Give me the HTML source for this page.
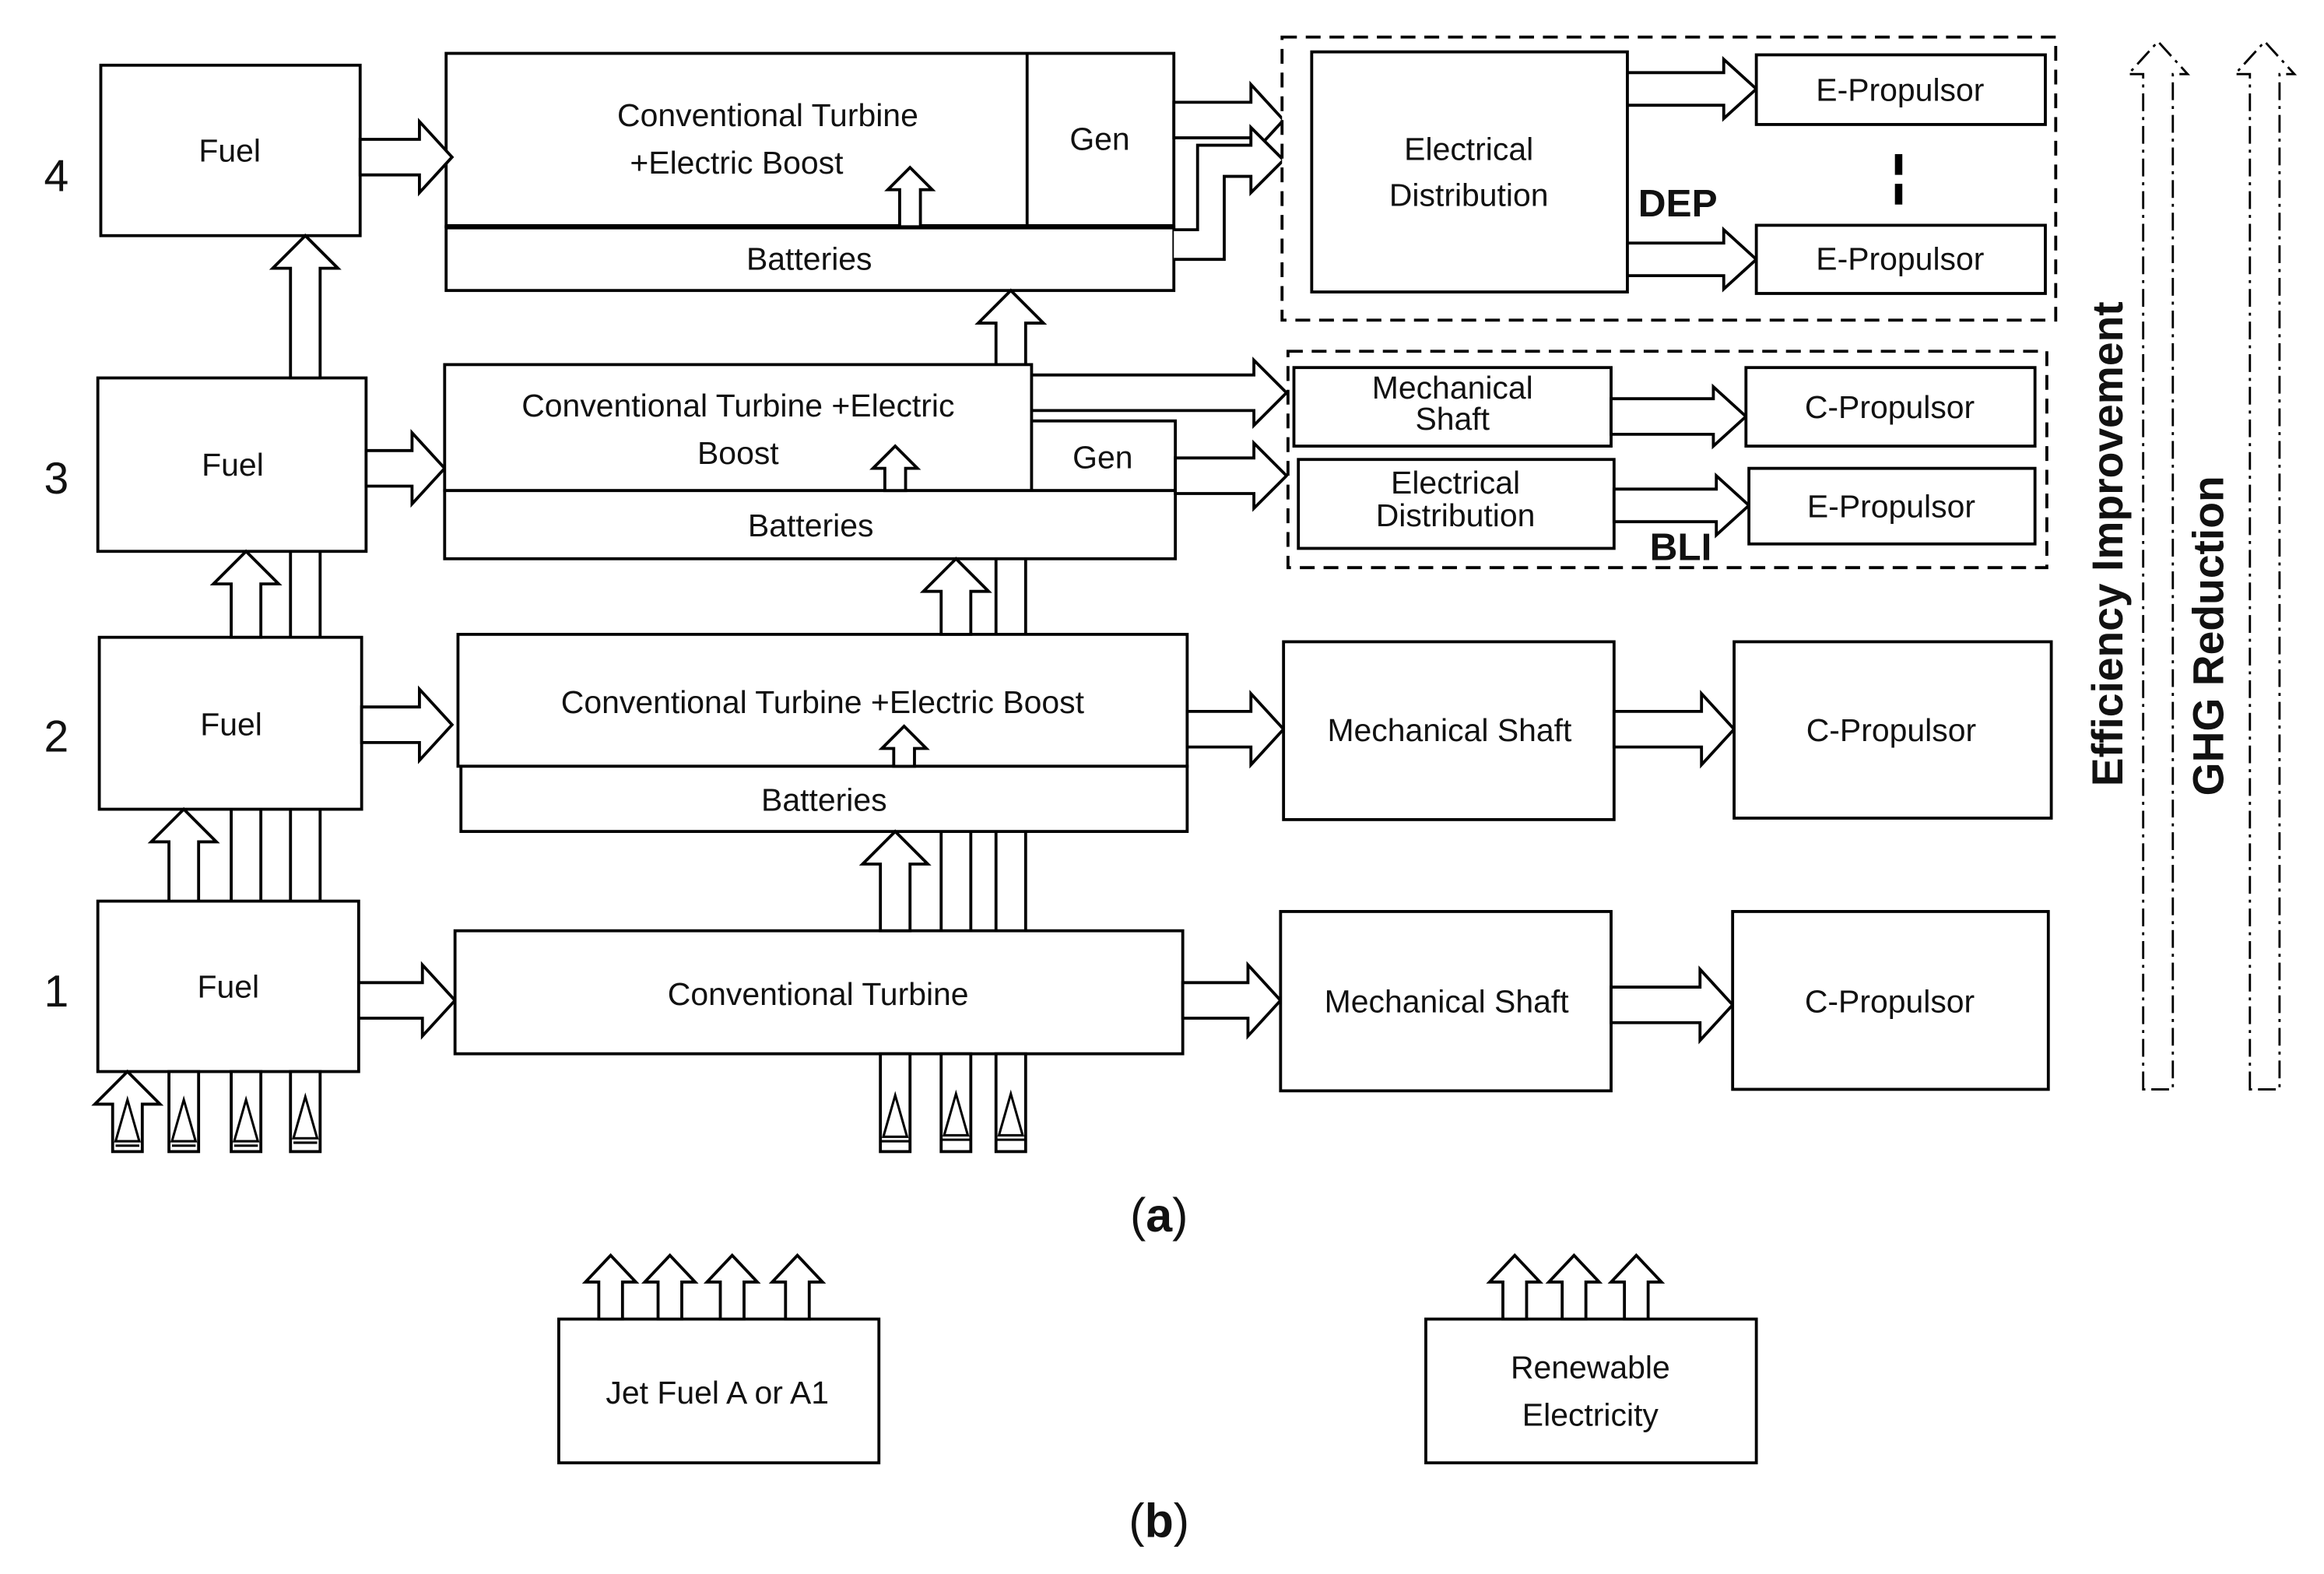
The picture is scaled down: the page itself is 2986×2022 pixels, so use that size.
<!DOCTYPE html>
<html><head><meta charset="utf-8"><style>
html,body{margin:0;padding:0;background:#fff}
svg{display:block}
text{font-family:"Liberation Sans",sans-serif;fill:#111}
</style></head><body>
<svg width="2986" height="2022" viewBox="0 0 1568 1062" preserveAspectRatio="none" xmlns="http://www.w3.org/2000/svg">
<g fill="#fff" stroke="#000" stroke-width="2">
<!-- Row 4 -->
<rect x="68" y="44" width="175" height="115"/>
<rect x="301" y="36" width="491" height="117"/>
<line x1="693" y1="36" x2="693" y2="153"/>
<rect x="301" y="153" width="491" height="43"/>
<line x1="301" y1="153" x2="792" y2="153" stroke-width="3.5"/>
<polygon points="243,94 283,94 283,82 305,106 283,130 283,118 243,118"/>
<polygon points="607,153 607,128 599,128 614,113 629,128 621,128 621,153"/>
<polygon points="792,69 844,69 844,57 866,81 844,105 844,93 792,93"/>
<path d="M792,155 H808 V98 H844 V86 L866,108 L844,130 V119 H826 V175 H792"/>
<rect x="865" y="25" width="522" height="191" stroke-dasharray="10,6"/>
<rect x="885" y="35" width="213" height="162"/>
<polygon points="1098,49 1163,49 1163,40 1185,60 1163,80 1163,71 1098,71"/>
<polygon points="1098,164 1163,164 1163,155 1185,175 1163,195 1163,186 1098,186"/>
<rect x="1185" y="37" width="195" height="47"/>
<rect x="1185" y="152" width="195" height="46"/>
<!-- Row 3 -->
<rect x="66" y="255" width="181" height="117"/>
<polygon points="196,255 196,181 184,181 206,159 228,181 216,181 216,255"/>
<polygon points="247,304 278,304 278,292 300,316 278,340 278,328 247,328"/>
<polygon points="672,246 672,218 660,218 682,196 704,218 692,218 692,246"/>
<rect x="300" y="246" width="396" height="85"/>
<rect x="696" y="284" width="97" height="47"/>
<rect x="300" y="331" width="493" height="46"/>
<polygon points="597,331 597,316 589,316 604,301 619,316 611,316 611,331"/>
<polygon points="696,253 846,253 846,243 868,265 846,287 846,277 696,277"/>
<polygon points="793,309 846,309 846,299 868,321 846,343 846,333 793,333"/>
<rect x="869" y="237" width="512" height="146" stroke-dasharray="10,6"/>
<rect x="873" y="248" width="214" height="53"/>
<rect x="876" y="310" width="213" height="60"/>
<polygon points="1087,269 1156,269 1156,261 1178,281 1156,301 1156,293 1087,293"/>
<polygon points="1089,330 1158,330 1158,321 1180,341 1158,361 1158,352 1089,352"/>
<rect x="1178" y="248" width="195" height="53"/>
<rect x="1180" y="316" width="193" height="51"/>
<!-- Row 2 -->
<rect x="67" y="430" width="177" height="116"/>
<polygon points="156,430 156,394 144,394 166,372 188,394 176,394 176,430"/>
<line x1="196" y1="372" x2="196" y2="430"/><line x1="216" y1="372" x2="216" y2="430"/>
<polygon points="244,477 283,477 283,465 305,489 283,513 283,501 244,501"/>
<rect x="309" y="428" width="492" height="89"/>
<rect x="311" y="517" width="490" height="44"/>
<polygon points="603,517 603,505 595,505 610,490 625,505 617,505 617,517"/>
<polygon points="635,428 635,399 623,399 645,377 667,399 655,399 655,428"/>
<line x1="672" y1="377" x2="672" y2="428"/><line x1="692" y1="377" x2="692" y2="428"/>
<polygon points="801,480 844,480 844,468 866,492 844,516 844,504 801,504"/>
<rect x="866" y="433" width="223" height="120"/>
<polygon points="1089,480 1148,480 1148,468 1170,492 1148,516 1148,504 1089,504"/>
<rect x="1170" y="433" width="214" height="119"/>
<!-- Row 1 -->
<rect x="66" y="608" width="176" height="115"/>
<polygon points="114,608 114,568 102,568 124,546 146,568 134,568 134,608"/>
<line x1="156" y1="546" x2="156" y2="608"/><line x1="176" y1="546" x2="176" y2="608"/>
<line x1="196" y1="546" x2="196" y2="608"/><line x1="216" y1="546" x2="216" y2="608"/>
<polygon points="242,663 285,663 285,651 307,675 285,699 285,687 242,687"/>
<rect x="307" y="628" width="491" height="83"/>
<polygon points="594,628 594,583 582,583 604,561 626,583 614,583 614,628"/>
<line x1="635" y1="561" x2="635" y2="628"/><line x1="655" y1="561" x2="655" y2="628"/>
<line x1="672" y1="561" x2="672" y2="628"/><line x1="692" y1="561" x2="692" y2="628"/>
<polygon points="798,663 842,663 842,651 864,675 842,699 842,687 798,687"/>
<rect x="864" y="615" width="223" height="121"/>
<polygon points="1087,666 1147,666 1147,654 1169,678 1147,702 1147,690 1087,690"/>
<rect x="1169" y="615" width="213" height="120"/>
<!-- bottom inputs left -->
<polygon points="76,777 76,745 64,745 86,723 108,745 96,745 96,777"/>
<rect x="114" y="723" width="20" height="54"/>
<rect x="156" y="723" width="20" height="54"/>
<rect x="196" y="723" width="20" height="54"/>
<rect x="594" y="711" width="20" height="66"/>
<rect x="635" y="711" width="20" height="66"/>
<rect x="672" y="711" width="20" height="66"/>
<g stroke-width="1.6">
<polygon points="78,770 86,742 94,770"/><line x1="78" y1="773" x2="94" y2="773"/>
<polygon points="116,770 124,742 132,770"/><line x1="116" y1="773" x2="132" y2="773"/>
<polygon points="158,770 166,742 174,770"/><line x1="158" y1="773" x2="174" y2="773"/>
<polygon points="198,768 206,740 214,768"/><line x1="198" y1="771" x2="214" y2="771"/>
<polygon points="596,767 604,739 612,767"/><line x1="594" y1="770" x2="614" y2="770"/>
<polygon points="637,766 645,738 653,766"/><line x1="635" y1="769" x2="655" y2="769"/>
<polygon points="674,766 682,738 690,766"/><line x1="672" y1="769" x2="692" y2="769"/>
</g>
<!-- dash-dot arrows -->
<g stroke-width="1.5" stroke-dasharray="12,4,2,4" fill="none">
<polygon points="1446,735 1446,50 1436,50 1456,28 1476,50 1466,50 1466,735"/>
<polygon points="1518,735 1518,50 1508,50 1528,28 1548,50 1538,50 1538,735"/>
</g>
<!-- (b) -->
<rect x="377" y="890" width="216" height="97"/>
<rect x="962" y="890" width="223" height="97"/>
<polygon points="404,890 404,865 395,865 412,847 429,865 420,865 420,890"/>
<polygon points="444,890 444,865 435,865 452,847 469,865 460,865 460,890"/>
<polygon points="486,890 486,865 477,865 494,847 511,865 502,865 502,890"/>
<polygon points="530,890 530,865 521,865 538,847 555,865 546,865 546,890"/>
<polygon points="1014,890 1014,865 1005,865 1022,847 1039,865 1030,865 1030,890"/>
<polygon points="1054,890 1054,865 1045,865 1062,847 1079,865 1070,865 1070,890"/>
<polygon points="1096,890 1096,865 1087,865 1104,847 1121,865 1112,865 1112,890"/>
</g>
<line x1="1281" y1="104" x2="1281" y2="143" stroke="#000" stroke-width="5" stroke-dasharray="14,6"/>
<g font-size="21.5" text-anchor="middle">
<text x="38" y="129" font-size="30">4</text>
<text x="38" y="333" font-size="30">3</text>
<text x="38" y="507" font-size="30">2</text>
<text x="38" y="679" font-size="30">1</text>
<text x="155" y="109">Fuel</text>
<text x="157" y="321">Fuel</text>
<text x="156" y="496">Fuel</text>
<text x="154" y="673">Fuel</text>
<text x="518" y="85">Conventional Turbine</text>
<text x="497" y="117">+Electric Boost</text>
<text x="742" y="101">Gen</text>
<text x="546" y="182">Batteries</text>
<text x="991" y="108">Electrical</text>
<text x="991" y="139">Distribution</text>
<text x="1282" y="68">E-Propulsor</text>
<text x="1282" y="182">E-Propulsor</text>
<text x="1132" y="146" font-weight="bold" font-size="26">DEP</text>
<text x="498" y="281">Conventional Turbine +Electric</text>
<text x="498" y="313">Boost</text>
<text x="744" y="316">Gen</text>
<text x="547" y="362">Batteries</text>
<text x="980" y="269">Mechanical</text>
<text x="980" y="290">Shaft</text>
<text x="982" y="333">Electrical</text>
<text x="982" y="355">Distribution</text>
<text x="1275" y="282">C-Propulsor</text>
<text x="1276" y="349">E-Propulsor</text>
<text x="1134" y="378" font-weight="bold" font-size="26">BLI</text>
<text x="555" y="481">Conventional Turbine +Electric Boost</text>
<text x="556" y="547">Batteries</text>
<text x="978" y="500">Mechanical Shaft</text>
<text x="1276" y="500">C-Propulsor</text>
<text x="552" y="678">Conventional Turbine</text>
<text x="976" y="683">Mechanical Shaft</text>
<text x="1275" y="683">C-Propulsor</text>
<text x="484" y="947">Jet Fuel A or A1</text>
<text x="1073" y="930">Renewable</text>
<text x="1073" y="962">Electricity</text>
<text x="1432" y="367" font-weight="bold" font-size="29" transform="rotate(-90 1432 367)">Efficiency Improvement</text>
<text x="1500" y="429" font-weight="bold" font-size="29" transform="rotate(-90 1500 429)">GHG Reduction</text>
<text x="782" y="831" font-family="Liberation Serif,serif" font-size="32">(<tspan font-weight="bold">a</tspan>)</text>
<text x="782" y="1037" font-family="Liberation Serif,serif" font-size="32">(<tspan font-weight="bold">b</tspan>)</text>
</g>
</svg>
</body></html>
